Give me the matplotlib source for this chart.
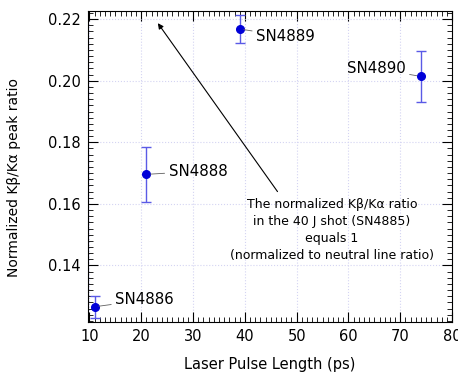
import matplotlib
matplotlib.use('Agg')
import matplotlib.pyplot as plt
from matplotlib.ticker import MultipleLocator

# shots: pulse length (ps), normalized Kb/Ka ratio, error
shots = ['SN4886', 'SN4888', 'SN4889', 'SN4890']
pulse = [11, 21, 39, 74]
ratio = [0.1266, 0.1696, 0.2168, 0.2014]
err = [0.0035, 0.0090, 0.0045, 0.0082]
# label text positions (data coords)
lab_x = [15.0, 25.3, 42.2, 71.0]
lab_y = [0.1288, 0.1706, 0.2145, 0.2039]
lab_ha = ['left', 'left', 'left', 'right']

plt.rcParams['font.family'] = ['DejaVu Sans']

fig = plt.figure(figsize=(4.58, 3.72), dpi=100)
ax = fig.add_axes([0.192, 0.134, 0.795, 0.836])

ax.grid(True, which='major', color='#d4d4f2', linestyle=':', linewidth=0.8)
ax.set_axisbelow(True)

ax.errorbar(pulse, ratio, yerr=err, fmt='o', color='#0000d8', ms=5.5,
            ecolor='#5a5ae6', elinewidth=1.0, capsize=3.5, capthick=1.0)

for i in range(len(shots)):
    ax.annotate(shots[i], xy=(pulse[i], ratio[i]), xytext=(lab_x[i], lab_y[i]),
                ha=lab_ha[i], va='center', fontsize=10.8,
                arrowprops=dict(arrowstyle='-', color='#606060', lw=0.6,
                                shrinkA=1, shrinkB=3))

ax.annotate('', xy=(23.2, 0.2187), xytext=(46.3, 0.1640),
            arrowprops=dict(arrowstyle='-|>', color='black', lw=0.8,
                            mutation_scale=8, shrinkA=0, shrinkB=0))
ax.text(56.8, 0.1620, 'The normalized Kβ/Kα ratio\nin the 40 J shot (SN4885)\n'
        'equals 1\n(normalized to neutral line ratio)',
        ha='center', va='top', fontsize=9, linespacing=1.42)

ax.set_xlim(9.7, 80)
ax.set_ylim(0.1216, 0.2226)
ax.xaxis.set_major_locator(MultipleLocator(10))
ax.xaxis.set_minor_locator(MultipleLocator(1))
ax.yaxis.set_major_locator(MultipleLocator(0.02))
ax.yaxis.set_minor_locator(MultipleLocator(0.002))
ax.yaxis.set_major_formatter(plt.FormatStrFormatter('%.2f'))
ax.tick_params(which='both', direction='in', top=True, right=True, labelsize=10.5)
ax.tick_params(which='major', length=7, width=0.8)
ax.tick_params(which='minor', length=3.5, width=0.6)
ax.tick_params(axis='x', pad=5)
ax.tick_params(axis='y', pad=5)

ax.set_xlabel('Laser Pulse Length (ps)', fontsize=10.5, labelpad=9)
ax.set_ylabel('Normalized Kβ/Kα peak ratio', fontsize=10)
ax.yaxis.set_label_coords(-0.183, 0.466)

fig.savefig('out.png', dpi=100)
